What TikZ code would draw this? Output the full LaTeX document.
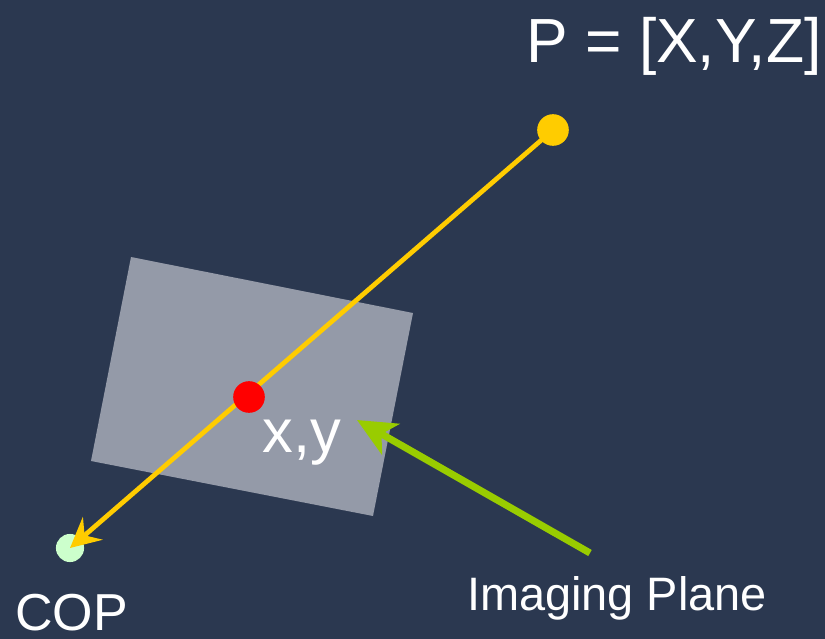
\documentclass[tikz,border=0pt]{standalone}
\usepackage{fontspec}
\setmainfont{Liberation Sans}
\usetikzlibrary{calc,arrows.meta,positioning}

\definecolor{bgnavy}{RGB}{43,56,80}
\definecolor{planegray}{RGB}{148,154,168}
\definecolor{rayyellow}{RGB}{255,204,0}
\definecolor{copgreen}{RGB}{204,255,204}
\definecolor{pointergreen}{RGB}{153,204,0}

\tikzset{
  dot/.style={circle,inner sep=0pt,minimum size=#1},
  lbl/.style={text=white,inner sep=0pt}
}

\begin{document}
\begin{tikzpicture}[x=0.02cm,y=-0.02cm,>=Stealth,line join=round]
    \fill[bgnavy] (0,0) rectangle (825,639);
    \useasboundingbox (0,0) rectangle (825,639);
    % imaging plane
    \fill[planegray] (131,257)--(413,313)--(373,516)--(91,461)--cycle;
    % points
    \node[dot=18pt,fill=rayyellow] (P) at (553,130) {};
    \node[dot=16pt,fill=copgreen] (cop) at (70,548) {};
    \draw[rayyellow,line width=2.7pt,-{Stealth[length=17pt,width=17pt,inset=6pt]}] (P.center) -- (cop.center);
    \node[dot=18pt,fill=red] (xy) at (249,397) {};
    % labels
    \node[lbl,anchor=base west,font=\fontsize{35.5}{38}\selectfont] (Plbl) at (526,62) {P = [X,Y,Z]};
    \node[lbl,anchor=base,font=\fontsize{35}{37}\selectfont] (xylbl) at (302,452) {x,y};
    \node[lbl,anchor=base west,font=\fontsize{29.6}{32}\selectfont] (coplbl) at (15,630) {COP};
    \node[lbl,anchor=base,font=\fontsize{26.7}{29}\selectfont] (planelbl) at (617,610) {Imaging Plane};
    % pointer
    \coordinate (ptail) at (590,553);
    \coordinate (phead) at (357,420);
    \draw[pointergreen,line width=4pt,-{Stealth[length=22pt,width=20pt,inset=6pt]}] (ptail) -- (phead);
  \end{tikzpicture}
\end{document}
